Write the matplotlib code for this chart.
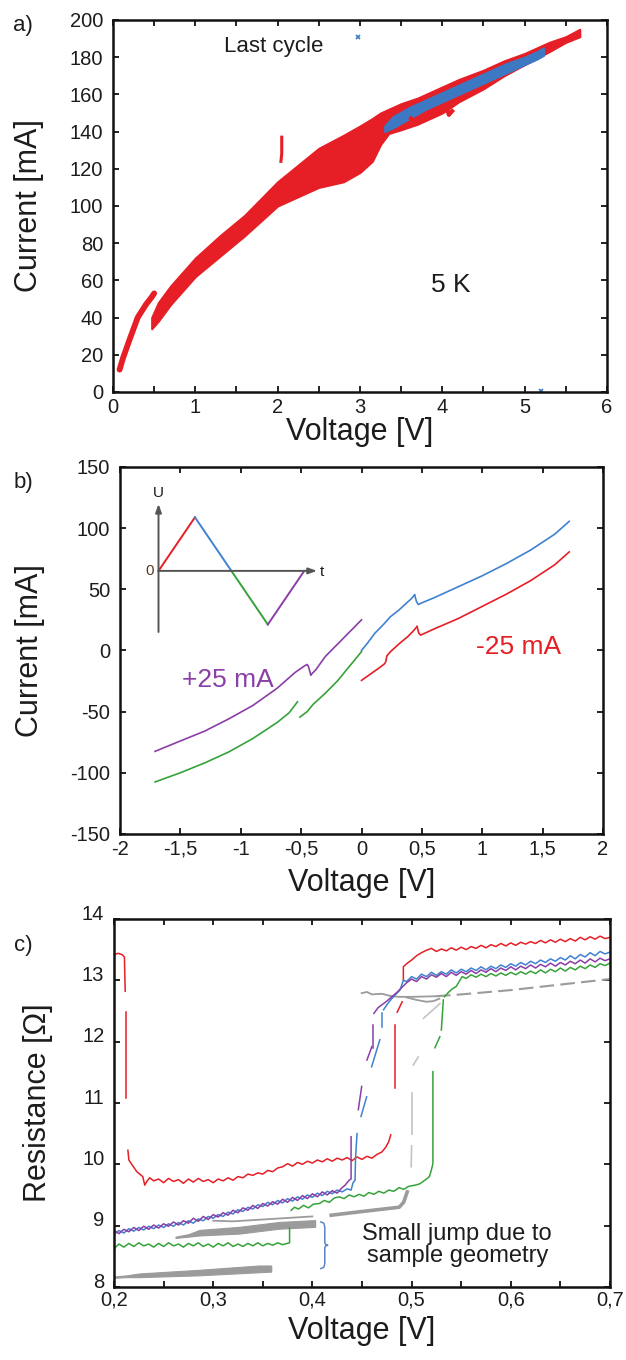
import matplotlib
matplotlib.use('Agg')
import matplotlib.pyplot as plt
import matplotlib.transforms as mtransforms
from matplotlib.ticker import MultipleLocator, FuncFormatter

plt.rcParams['font.family'] = ['Liberation Sans', 'DejaVu Sans']

# ==============================================================================
#  DATA
# ==============================================================================

# --- a) I-V cloud at 5 K (envelope of all cycles) and the last cycle
a_v     = [0.47, 0.55, 0.70, 1.00, 1.30, 1.60, 2.00, 2.50, 2.80, 3.00, 3.15, 3.25,
           3.35, 3.50, 3.70, 4.00, 4.20, 4.50, 4.75, 5.00, 5.30, 5.50, 5.67]
a_upper = [40, 48, 57, 72, 84, 95, 113, 131, 138, 143, 147, 150,
           152, 155, 158, 164, 168, 173, 178, 182, 188, 191, 195]
a_lower = [34, 38, 47, 62, 73, 84, 100, 110, 113, 118, 124, 133,
           139, 141, 144, 150, 156, 163, 170, 176, 183, 188, 191]
a_branch_v = [0.08, 0.12, 0.20, 0.30, 0.40, 0.47, 0.50]
a_branch_i = [12, 18, 28, 40, 47, 51, 53]
a_spike_v  = [2.04, 2.05, 2.05]
a_spike_i  = [124, 128, 137]
a_bumps = [[(3.62, 147), (3.70, 145), (3.76, 146)],
           [(4.06, 152), (4.08, 149), (4.12, 151)]]

a_last_v     = [3.30, 3.40, 3.60, 3.80, 4.00, 4.20, 4.40, 4.60, 4.80, 5.00, 5.15, 5.23]
a_last_upper = [143, 148, 153, 157, 161, 165, 169, 173, 177, 180, 183, 185]
a_last_lower = [140, 142, 147, 152, 156, 160, 164, 168, 172, 176, 179, 181]
a_stray_v = [2.98, 5.20]
a_stray_i = [191, 0.5]

# --- b) I-V of the four sweep quarters
b_blue = [[(0.00, 0.0), (0.05, 6.0), (0.11, 14), (0.18, 21), (0.24, 27.6), (0.31, 33),
           (0.37, 38.5), (0.41, 42), (0.44, 45.4)],
          [(0.44, 45.4), (0.455, 40), (0.47, 37.5), (0.49, 38.5), (0.60, 43), (0.80, 52),
           (1.00, 61), (1.20, 71), (1.40, 82), (1.60, 95), (1.72, 105.5)]]
b_red = [[(0.00, -24.5), (0.05, -21), (0.10, -17.5), (0.15, -14), (0.19, -11), (0.20, -9.5),
          (0.21, -4.5), (0.24, -1), (0.29, 3.5), (0.33, 7), (0.38, 11), (0.42, 15), (0.46, 19.5)],
         [(0.46, 19.5), (0.475, 14), (0.49, 12.5), (0.60, 17.5), (0.80, 26), (1.00, 36),
          (1.20, 46), (1.40, 57), (1.60, 70), (1.72, 80.5)]]
b_green = [[(-1.71, -107.5), (-1.50, -100), (-1.30, -92), (-1.10, -83), (-0.90, -72),
            (-0.70, -59), (-0.60, -51), (-0.53, -42)],
           [(-0.51, -54.5), (-0.45, -50), (-0.40, -44), (-0.30, -35), (-0.20, -25),
            (-0.10, -13), (0.00, -1)]]
b_purple = [[(-1.71, -82.5), (-1.50, -74), (-1.30, -66), (-1.10, -56), (-0.90, -45),
             (-0.70, -31), (-0.55, -18), (-0.47, -12.5), (-0.45, -11.5), (-0.44, -13),
             (-0.42, -20)],
            [(-0.42, -20), (-0.38, -16), (-0.30, -5), (-0.20, 5), (-0.10, 15), (0.00, 25)]]

# triangular voltage program shown in the inset
wave_t = [0, 1, 2, 3, 4]
wave_u = [0, 1, 0, -1, 0]

# --- c) resistance vs voltage around the switching
c_red = [
    [(0.200, 13.30), (0.2005, 13.42), (0.204, 13.44), (0.208, 13.42), (0.2105, 13.38), (0.2113, 12.82)],
    [(0.2125, 12.49), (0.2125, 11.08)],
    [(0.2140, 10.23), (0.2150, 10.07), (0.217, 10.02), (0.220, 9.95), (0.223, 9.88), (0.226, 9.84),
     (0.229, 9.80), (0.231, 9.66), (0.233, 9.72), (0.236, 9.78), (0.240, 9.73), (0.245, 9.76),
     (0.250, 9.70), (0.255, 9.77), (0.260, 9.72), (0.265, 9.75), (0.270, 9.69), (0.275, 9.76),
     (0.280, 9.71), (0.285, 9.77), (0.290, 9.72), (0.295, 9.75), (0.300, 9.70), (0.305, 9.76),
     (0.310, 9.73), (0.315, 9.78), (0.320, 9.74), (0.325, 9.80), (0.330, 9.78), (0.335, 9.84),
     (0.340, 9.82), (0.345, 9.86), (0.350, 9.84), (0.355, 9.90), (0.360, 9.88), (0.365, 9.94),
     (0.370, 9.96), (0.375, 10.01), (0.380, 9.97), (0.385, 10.03), (0.390, 10.00), (0.395, 10.05),
     (0.400, 10.02), (0.405, 10.07), (0.410, 10.04), (0.415, 10.09), (0.420, 10.05), (0.425, 10.10),
     (0.430, 10.07), (0.435, 10.11), (0.440, 10.06), (0.445, 10.12), (0.450, 10.08), (0.455, 10.13),
     (0.460, 10.10), (0.465, 10.16), (0.470, 10.20), (0.474, 10.28), (0.477, 10.37), (0.479, 10.48)],
    [(0.4833, 11.24), (0.4833, 12.27)],
    [(0.4855, 12.48), (0.4905, 12.65)],
    [(0.4917, 13.00), (0.4917, 13.22), (0.495, 13.27), (0.500, 13.33), (0.505, 13.40), (0.510, 13.45),
     (0.515, 13.49), (0.520, 13.52), (0.525, 13.47), (0.530, 13.51), (0.535, 13.48), (0.540, 13.53),
     (0.545, 13.49), (0.550, 13.54), (0.555, 13.50), (0.560, 13.55), (0.565, 13.52), (0.570, 13.57),
     (0.575, 13.53), (0.580, 13.58), (0.585, 13.55), (0.590, 13.60), (0.595, 13.56), (0.600, 13.61),
     (0.605, 13.57), (0.610, 13.62), (0.615, 13.59), (0.620, 13.63), (0.625, 13.60), (0.630, 13.65),
     (0.635, 13.61), (0.640, 13.66), (0.645, 13.62), (0.650, 13.67), (0.655, 13.63), (0.660, 13.68),
     (0.665, 13.64), (0.670, 13.70), (0.675, 13.66), (0.680, 13.71), (0.685, 13.67), (0.690, 13.72),
     (0.695, 13.68), (0.700, 13.70)],
]
c_blue = [
    [(0.200, 8.86), (0.205, 8.92), (0.210, 8.88), (0.215, 8.95), (0.220, 8.91), (0.225, 8.97),
     (0.230, 8.93), (0.235, 8.99), (0.240, 8.95), (0.245, 9.01), (0.250, 8.97), (0.255, 9.03),
     (0.260, 8.99), (0.265, 9.05), (0.270, 9.01), (0.275, 9.08), (0.280, 9.04), (0.285, 9.11),
     (0.290, 9.08), (0.295, 9.15), (0.300, 9.12), (0.305, 9.18), (0.310, 9.15), (0.315, 9.22),
     (0.320, 9.19), (0.325, 9.26), (0.330, 9.23), (0.335, 9.30), (0.340, 9.27), (0.345, 9.34),
     (0.350, 9.31), (0.355, 9.38), (0.360, 9.34), (0.365, 9.41), (0.370, 9.37), (0.375, 9.44),
     (0.380, 9.40), (0.385, 9.47), (0.390, 9.43), (0.395, 9.50), (0.400, 9.46), (0.405, 9.53),
     (0.410, 9.49), (0.415, 9.56), (0.420, 9.52), (0.425, 9.58), (0.430, 9.55), (0.435, 9.60),
     (0.439, 9.58), (0.441, 9.70), (0.443, 9.74), (0.4435, 10.10), (0.445, 10.50)],
    [(0.449, 10.78), (0.4547, 11.10)],
    [(0.4597, 11.59), (0.468, 12.03)],
    [(0.470, 12.24), (0.470, 12.46)],
    [(0.4717, 12.52), (0.476, 12.62), (0.480, 12.70), (0.484, 12.77), (0.4883, 12.84), (0.4917, 13.00),
     (0.495, 12.98), (0.500, 13.06), (0.505, 13.02), (0.510, 13.10), (0.515, 13.06), (0.520, 13.13),
     (0.525, 13.08), (0.530, 13.14), (0.535, 13.10), (0.540, 13.17), (0.545, 13.12), (0.550, 13.18),
     (0.555, 13.14), (0.560, 13.20), (0.565, 13.16), (0.570, 13.22), (0.575, 13.17), (0.580, 13.23),
     (0.585, 13.19), (0.590, 13.25), (0.595, 13.21), (0.600, 13.27), (0.605, 13.23), (0.610, 13.29),
     (0.615, 13.25), (0.620, 13.31), (0.625, 13.27), (0.630, 13.33), (0.635, 13.29), (0.640, 13.35),
     (0.645, 13.31), (0.650, 13.37), (0.655, 13.33), (0.660, 13.40), (0.665, 13.35), (0.670, 13.42),
     (0.675, 13.38), (0.680, 13.45), (0.685, 13.40), (0.690, 13.47), (0.695, 13.43), (0.700, 13.46)],
]
c_purple = [
    [(0.200, 8.92), (0.205, 8.87), (0.210, 8.94), (0.215, 8.90), (0.220, 8.97), (0.225, 8.92),
     (0.230, 8.99), (0.235, 8.94), (0.240, 9.01), (0.245, 8.96), (0.250, 9.03), (0.255, 8.99),
     (0.260, 9.06), (0.265, 9.01), (0.270, 9.08), (0.275, 9.04), (0.280, 9.12), (0.285, 9.07),
     (0.290, 9.15), (0.295, 9.10), (0.300, 9.18), (0.305, 9.14), (0.310, 9.21), (0.315, 9.17),
     (0.320, 9.25), (0.325, 9.21), (0.330, 9.29), (0.335, 9.25), (0.340, 9.33), (0.345, 9.28),
     (0.350, 9.36), (0.355, 9.32), (0.360, 9.39), (0.365, 9.35), (0.370, 9.43), (0.375, 9.38),
     (0.380, 9.46), (0.385, 9.41), (0.390, 9.49), (0.395, 9.44), (0.400, 9.52), (0.405, 9.47),
     (0.410, 9.55), (0.415, 9.50), (0.420, 9.57), (0.425, 9.53), (0.430, 9.62), (0.433, 9.66),
     (0.437, 9.74), (0.439, 9.76), (0.439, 10.45)],
    [(0.4463, 10.89), (0.4497, 11.27)],
    [(0.455, 11.70), (0.460, 11.92)],
    [(0.4613, 11.90), (0.4613, 12.27)],
    [(0.462, 12.46), (0.466, 12.55), (0.470, 12.60), (0.475, 12.66), (0.480, 12.73), (0.485, 12.80),
     (0.490, 12.88), (0.495, 12.96), (0.500, 13.02), (0.505, 12.98), (0.510, 13.06), (0.515, 13.02),
     (0.520, 13.09), (0.525, 13.05), (0.530, 13.11), (0.535, 13.06), (0.540, 13.13), (0.545, 13.08),
     (0.550, 13.14), (0.555, 13.10), (0.560, 13.16), (0.565, 13.11), (0.570, 13.17), (0.575, 13.13),
     (0.580, 13.19), (0.585, 13.14), (0.590, 13.20), (0.595, 13.16), (0.600, 13.22), (0.605, 13.17),
     (0.610, 13.23), (0.615, 13.19), (0.620, 13.25), (0.625, 13.20), (0.630, 13.26), (0.635, 13.22),
     (0.640, 13.28), (0.645, 13.23), (0.650, 13.29), (0.655, 13.25), (0.660, 13.31), (0.665, 13.27),
     (0.670, 13.33), (0.675, 13.28), (0.680, 13.35), (0.685, 13.30), (0.690, 13.36), (0.695, 13.32),
     (0.700, 13.35)],
]
c_green = [
    [(0.200, 8.56), (0.201, 8.64), (0.205, 8.70), (0.210, 8.65), (0.215, 8.71), (0.220, 8.66),
     (0.225, 8.72), (0.230, 8.67), (0.235, 8.70), (0.240, 8.65), (0.245, 8.71), (0.250, 8.66),
     (0.255, 8.72), (0.260, 8.67), (0.265, 8.70), (0.270, 8.65), (0.275, 8.71), (0.280, 8.67),
     (0.285, 8.72), (0.290, 8.66), (0.295, 8.70), (0.300, 8.65), (0.305, 8.71), (0.310, 8.67),
     (0.315, 8.72), (0.320, 8.66), (0.325, 8.70), (0.330, 8.66), (0.335, 8.71), (0.340, 8.67),
     (0.345, 8.72), (0.350, 8.67), (0.355, 8.71), (0.360, 8.68), (0.365, 8.72), (0.370, 8.69),
     (0.3746, 8.71), (0.377, 8.72), (0.377, 8.96)],
    [(0.3786, 9.25), (0.382, 9.30), (0.386, 9.27), (0.391, 9.33), (0.396, 9.29), (0.401, 9.35),
     (0.407, 9.36), (0.412, 9.41), (0.417, 9.38), (0.422, 9.45), (0.427, 9.47), (0.432, 9.44),
     (0.437, 9.50), (0.442, 9.47), (0.447, 9.51), (0.452, 9.48), (0.457, 9.54), (0.462, 9.51),
     (0.467, 9.56), (0.472, 9.53), (0.477, 9.58), (0.482, 9.56), (0.4875, 9.62), (0.492, 9.59),
     (0.497, 9.64), (0.5036, 9.66), (0.508, 9.68), (0.5117, 9.72), (0.515, 9.76), (0.518, 9.80),
     (0.520, 9.91), (0.5215, 10.01), (0.5215, 11.51)],
    [(0.5235, 11.90), (0.5285, 12.08)],
    [(0.530, 12.19), (0.532, 12.68)],
    [(0.533, 12.73), (0.537, 12.80), (0.541, 12.86), (0.545, 12.90), (0.551, 13.06), (0.555, 13.03),
     (0.560, 13.09), (0.565, 13.05), (0.570, 13.10), (0.575, 13.06), (0.580, 13.11), (0.585, 13.07),
     (0.590, 13.12), (0.595, 13.08), (0.600, 13.13), (0.605, 13.09), (0.610, 13.14), (0.615, 13.10),
     (0.620, 13.15), (0.625, 13.11), (0.630, 13.17), (0.635, 13.12), (0.640, 13.18), (0.645, 13.14),
     (0.650, 13.20), (0.655, 13.15), (0.660, 13.21), (0.665, 13.17), (0.670, 13.23), (0.675, 13.19),
     (0.680, 13.25), (0.685, 13.21), (0.690, 13.27), (0.695, 13.24), (0.700, 13.28)],
]

# grey reference sweeps: two broad bands and a set of thin traces
c_band1_v  = [0.200, 0.213, 0.2254, 0.286, 0.346, 0.3585]
c_band1_lo = [8.15, 8.16, 8.16, 8.19, 8.24, 8.25]
c_band1_hi = [8.17, 8.19, 8.22, 8.28, 8.35, 8.35]
c_band2_v  = [0.262, 0.275, 0.286, 0.326, 0.3665, 0.4028]
c_band2_lo = [8.80, 8.82, 8.84, 8.87, 8.95, 8.98]
c_band2_hi = [8.82, 8.86, 8.93, 8.98, 9.06, 9.09]
c_grey_thick = [(0.419, 9.17), (0.450, 9.23), (0.4875, 9.30), (0.492, 9.38), (0.4956, 9.55)]
c_grey_thin = [
    [(0.300, 9.08), (0.320, 9.07), (0.340, 9.09), (0.360, 9.11), (0.380, 9.13), (0.400, 9.15)],
    [(0.4497, 12.79), (0.455, 12.81), (0.460, 12.77), (0.470, 12.78), (0.480, 12.74),
     (0.488, 12.73), (0.500, 12.73), (0.5245, 12.74)],
    [(0.495, 12.72), (0.505, 12.68), (0.515, 12.65), (0.522, 12.66), (0.528, 12.70)],
]
# faint grey rise through the transition
c_grey_faint = [
    [(0.4996, 9.96), (0.500, 10.30)],
    [(0.500, 10.50), (0.500, 11.16)],
    [(0.5017, 11.62), (0.5067, 11.75)],
    [(0.512, 12.38), (0.5286, 12.62)],
]
c_grey_dashed = [(0.5245, 12.74), (0.550, 12.77), (0.600, 12.84), (0.650, 12.93), (0.700, 13.02)]

# brace marking the small jump
c_brace = [(0.4085, 9.06), (0.4115, 9.04), (0.4125, 8.98), (0.4125, 8.72), (0.4135, 8.69),
           (0.4155, 8.68), (0.4135, 8.67), (0.4125, 8.64), (0.4125, 8.38), (0.4115, 8.32),
           (0.4085, 8.30)]

# ==============================================================================
#  STYLE
# ==============================================================================

RED    = '#e61e25'
BLUE_A = '#3d78c2'
BLUE   = '#3f82d0'
GREEN  = '#36a23a'
PURPLE = '#8a3ea6'
GREY   = '#9b9b9b'
FAINT  = '#c4c4c4'
TXT    = '#1c1c1c'
TICK_FS  = 14.5
LABEL_FS = 22


def comma(x, pos):
    if abs(x) < 1e-9:
        return '0'
    return f'{round(x, 6):g}'.replace('.', ',')


def style_axes(ax):
    for sp in ax.spines.values():
        sp.set_linewidth(1.8)
        sp.set_color('#111111')
    ax.tick_params(which='both', direction='in', top=True, right=True,
                   length=4, width=1.3, colors='#111111', labelcolor=TXT,
                   labelsize=TICK_FS)
    ax.tick_params(axis='x', which='both', pad=4)
    ax.tick_params(axis='y', which='both', pad=7)
    ax.xaxis.set_major_formatter(FuncFormatter(comma))
    ax.yaxis.set_major_formatter(FuncFormatter(comma))


def plot_segments(ax, segments, **kw):
    for seg in segments:
        v, r = zip(*seg)
        ax.plot(v, r, **kw)


fig = plt.figure(figsize=(6.26, 13.6), dpi=100)

# ==============================================================================
#  a) full I-V cloud
# ==============================================================================
ax_a = fig.add_axes([0.1805, 0.7118, 0.789, 0.2735])
ax_a.fill_between(a_v, a_lower, a_upper, color=RED, lw=1.5, edgecolor=RED)
ax_a.plot(a_branch_v, a_branch_i, color=RED, lw=4.2, solid_capstyle='round')
ax_a.plot(a_spike_v, a_spike_i, color=RED, lw=2.2)
plot_segments(ax_a, a_bumps, color=RED, lw=3)
ax_a.fill_between(a_last_v, a_last_lower, a_last_upper, color=BLUE_A, lw=1.5,
                  edgecolor=BLUE_A)
ax_a.plot(a_stray_v, a_stray_i, ls='none', marker='x', ms=3, mew=1.2, color=BLUE_A)
ax_a.set_xlim(0, 6)
ax_a.set_ylim(0, 200)
ax_a.xaxis.set_major_locator(MultipleLocator(1))
ax_a.xaxis.set_minor_locator(MultipleLocator(0.5))
ax_a.yaxis.set_major_locator(MultipleLocator(20))
style_axes(ax_a)
ax_a.set_xlabel('Voltage [V]', fontsize=LABEL_FS, color=TXT, labelpad=0)
ax_a.set_ylabel('Current [mA]', fontsize=LABEL_FS, color=TXT)
ax_a.yaxis.set_label_coords(-0.139, 0.5)
ax_a.text(1.95, 186, 'Last cycle', fontsize=16, color=TXT, ha='center', va='center')
ax_a.text(4.1, 57.5, '5 K', fontsize=19, color=TXT, ha='center', va='center')

# ==============================================================================
#  b) four quarters of the triangular sweep
# ==============================================================================
ax_b = fig.add_axes([0.1917, 0.3868, 0.7716, 0.2699])
plot_segments(ax_b, b_blue, color=BLUE, lw=1.2)
plot_segments(ax_b, b_red, color=RED, lw=1.2)
plot_segments(ax_b, b_green, color=GREEN, lw=1.2)
plot_segments(ax_b, b_purple, color=PURPLE, lw=1.2)
ax_b.set_xlim(-2, 2)
ax_b.set_ylim(-150, 150)
ax_b.xaxis.set_major_locator(MultipleLocator(0.5))
ax_b.yaxis.set_major_locator(MultipleLocator(50))
style_axes(ax_b)
ax_b.set_xlabel('Voltage [V]', fontsize=LABEL_FS, color=TXT, labelpad=7)
ax_b.set_ylabel('Current [mA]', fontsize=LABEL_FS, color=TXT)
ax_b.yaxis.set_label_coords(-0.156, 0.5)
ax_b.text(-1.11, -24, '+25 mA', fontsize=19, color=PURPLE, ha='center', va='center')
ax_b.text(1.30, 3, '-25 mA', fontsize=19, color=RED, ha='center', va='center')

# inset: U(t) program, one colour per quarter
ins = ax_b.inset_axes([-1.829, 8.5, 1.545, 125.7], transform=ax_b.transData)
ins.axis('off')
ins.set_xlim(-0.49, 4.63)
ins.set_ylim(-1.29, 1.58)
for k, col in enumerate([RED, BLUE, GREEN, PURPLE]):
    ins.plot(wave_t[k:k + 2], wave_u[k:k + 2], color=col, lw=1.4)
arrow = dict(arrowstyle='-|>,head_length=0.5,head_width=0.18', color='#555555', lw=1.4,
             shrinkA=0, shrinkB=0)
ins.annotate('', xy=(0, 1.25), xytext=(0, -1.14), arrowprops=arrow)
ins.annotate('', xy=(4.35, 0), xytext=(0, 0), arrowprops=arrow)
ins.text(0, 1.45, 'U', fontsize=11, color=TXT, ha='center', va='center')
ins.text(4.42, -0.02, 't', fontsize=11, color=TXT, ha='left', va='center')
ins.text(-0.12, 0, '0', fontsize=11, color='#5a3a1e', ha='right', va='center')

# ==============================================================================
#  c) resistance around the transition
# ==============================================================================
ax_c = fig.add_axes([0.1821, 0.0537, 0.7923, 0.2706])
ax_c.fill_between(c_band1_v, c_band1_lo, c_band1_hi, color=GREY, lw=0.8, edgecolor=GREY)
ax_c.fill_between(c_band2_v, c_band2_lo, c_band2_hi, color=GREY, lw=0.8, edgecolor=GREY)
gv, gr = zip(*c_grey_thick)
ax_c.plot(gv, gr, color=GREY, lw=2.6)
plot_segments(ax_c, c_grey_thin, color=GREY, lw=1.3)
plot_segments(ax_c, c_grey_faint, color=FAINT, lw=1.2)
gv, gr = zip(*c_grey_dashed)
ax_c.plot(gv, gr, color=GREY, lw=1.5, dashes=(7, 3))
plot_segments(ax_c, c_green, color=GREEN, lw=1.1)
plot_segments(ax_c, c_red, color=RED, lw=1.1)
plot_segments(ax_c, c_blue, color=BLUE, lw=1.1)
plot_segments(ax_c, c_purple, color=PURPLE, lw=1.1)
bv, br = zip(*c_brace)
ax_c.plot(bv, br, color='#5a86c4', lw=1.1)
ax_c.set_xlim(0.2, 0.7)
ax_c.set_ylim(8, 14)
ax_c.xaxis.set_major_locator(MultipleLocator(0.1))
ax_c.xaxis.set_minor_locator(MultipleLocator(0.05))
ax_c.yaxis.set_major_locator(MultipleLocator(1))
style_axes(ax_c)
ax_c.tick_params(axis='x', which='both', pad=2.5)
# lift the resistance labels a little so "8" clears "0,2"
lift = mtransforms.ScaledTranslation(0, 5 / 72, fig.dpi_scale_trans)
for lbl in ax_c.get_yticklabels():
    lbl.set_transform(lbl.get_transform() + lift)
ax_c.set_xlabel('Voltage [V]', fontsize=LABEL_FS, color=TXT, labelpad=5)
ax_c.set_ylabel('Resistance [Ω]', fontsize=LABEL_FS, color=TXT)
ax_c.yaxis.set_label_coords(-0.122, 0.5)
ax_c.text(0.546, 8.68, 'Small jump due to\nsample geometry', fontsize=17, color=TXT,
          ha='center', va='center', linespacing=1.0)

# panel letters
for label, y in [('a)', 26), ('b)', 482), ('c)', 946)]:
    fig.text(23 / 626, 1 - y / 1360, label, fontsize=16, color=TXT, ha='center', va='center')

fig.savefig('out.png', dpi=100)
